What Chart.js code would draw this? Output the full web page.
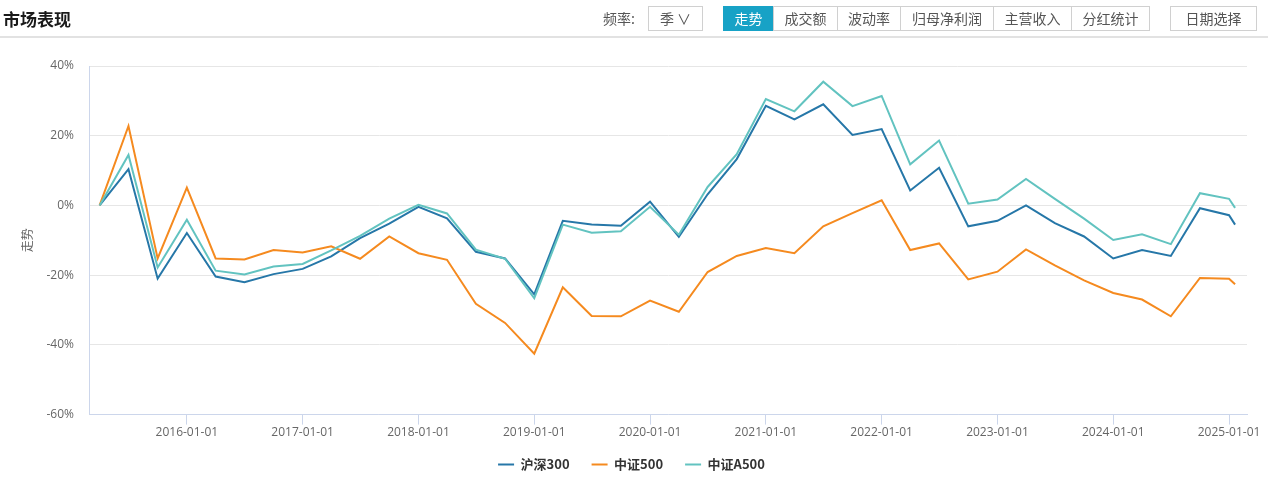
<!DOCTYPE html>
<html>
<head>
<meta charset="utf-8">
<script src="https://cdn.jsdelivr.net/npm/chart.js@4"></script>
<style>
  html, body { margin: 0; padding: 0; background: #fff; }
  body { width: 1268px; height: 486px; position: relative; overflow: hidden;
         font-family: "Open Sans", "Noto Sans CJK SC", sans-serif; }
  #chartWrap { position: absolute; left: 0; top: 0; width: 1268px; height: 486px; }
  .head { position: absolute; left: 0; top: 0; width: 1268px; height: 36px; border-bottom: 2px solid #e2e2e2; }
  .title { position: absolute; left: 3px; top: 6px; font-size: 17px; font-weight: bold; color: #1a1a1a;
           font-family: "Noto Sans CJK SC", sans-serif; }
  .lbl { position: absolute; left: 603px; top: 8px; font-size: 14px; color: #555; font-family: "Noto Sans CJK SC", sans-serif; }
  .box { position: absolute; top: 6px; height: 23px; border: 1px solid #d0d0d0; background: #fff;
         font-size: 14px; color: #555; line-height: 23px; text-align: center; box-sizing: content-box;
         font-family: "Noto Sans CJK SC", sans-serif; }
  .grp { position: absolute; left: 724px; top: 6px; height: 25px; display: flex; }
  .grp div { height: 23px; border: 1px solid #d0d0d0; margin-left: -1px; font-size: 14px; color: #555;
             line-height: 23px; text-align: center; font-family: "Noto Sans CJK SC", sans-serif; }
  .grp .on { background: #17a2c6; border-color: #17a2c6; color: #fff; }
</style>
</head>
<body>
<div id="chartWrap"><canvas id="c" width="1268" height="486"></canvas></div>
<div class="head">
  <div class="title">市场表现</div>
  <div class="lbl">频率:</div>
  <div class="box" style="left:648px;width:53px">季 &#8744;</div>
  <div class="grp">
    <div class="on" style="width:49px">走势</div>
    <div style="width:63px">成交额</div>
    <div style="width:62px">波动率</div>
    <div style="width:92px">归母净利润</div>
    <div style="width:77px">主营收入</div>
    <div style="width:77px">分红统计</div>
  </div>
  <div class="box" style="left:1170px;width:85px">日期选择</div>
</div>
<script>
// ── DATA ──────────────────────────────────────────────
const dates = [
  '2015-04-01','2015-07-01','2015-10-01',
  '2016-01-01','2016-04-01','2016-07-01','2016-10-01',
  '2017-01-01','2017-04-01','2017-07-01','2017-10-01',
  '2018-01-01','2018-04-01','2018-07-01','2018-10-01',
  '2019-01-01','2019-04-01','2019-07-01','2019-10-01',
  '2020-01-01','2020-04-01','2020-07-01','2020-10-01',
  '2021-01-01','2021-04-01','2021-07-01','2021-10-01',
  '2022-01-01','2022-04-01','2022-07-01','2022-10-01',
  '2023-01-01','2023-04-01','2023-07-01','2023-10-01',
  '2024-01-01','2024-04-01','2024-07-01','2024-10-01',
  '2025-01-01','2025-01-20'
];
const hs300 = [
  0, 10.4, -21.0, -7.9, -20.4, -22.0, -19.7, -18.2, -14.6, -9.4, -5.2, -0.4,
  -3.7, -13.3, -15.2, -25.5, -4.4, -5.5, -5.8, 1.1, -9.0, 3.2, 13.3, 28.6,
  24.7, 29.0, 20.2, 21.9, 4.3, 10.8, -6.0, -4.4, 0.0, -5.1, -8.9, -15.2,
  -12.8, -14.5, -0.8, -2.8, -5.5
];
const zz500 = [
  0, 22.8, -15.2, 5.1, -15.2, -15.5, -12.8, -13.5, -11.7, -15.3, -8.9, -13.7,
  -15.6, -28.2, -33.7, -42.5, -23.5, -31.7, -31.8, -27.3, -30.5, -19.1, -14.5, -12.2,
  -13.7, -6.0, -2.2, 1.5, -12.8, -10.9, -21.2, -19.0, -12.6, -17.2, -21.5, -25.1,
  -27.0, -31.8, -20.8, -21.0, -22.6
];
const zzA500 = [
  0, 14.5, -17.8, -4.1, -18.7, -19.8, -17.5, -16.8, -12.9, -8.7, -3.8, 0.2,
  -2.3, -12.7, -15.3, -26.6, -5.5, -7.8, -7.4, -0.4, -8.4, 5.3, 14.7, 30.5,
  27.0, 35.5, 28.5, 31.4, 11.8, 18.6, 0.5, 1.7, 7.6, 1.9, -3.8, -9.9,
  -8.3, -11.1, 3.5, 1.9, -0.7
];
const yearTicks = [2016, 2017, 2018, 2019, 2020, 2021, 2022, 2023, 2024, 2025];
const yTicks = [-60, -40, -20, 0, 20, 40];

// date string -> fractional year for the linear x scale
function toYear(s) {
  const d = new Date(s + 'T00:00:00Z');
  const y = d.getUTCFullYear();
  const start = Date.UTC(y, 0, 1), end = Date.UTC(y + 1, 0, 1);
  return y + (d - start) / (end - start);
}
const pts = vals => vals.map((v, i) => ({ x: toYear(dates[i]), y: v }));

const FONT = '"Open Sans", "Noto Sans CJK SC", sans-serif';
const AXIS = '#ccd6eb';

// nudge legend up a bit so it sits closer to the axis labels
const legendNudge = {
  id: 'legendNudge',
  afterLayout(chart) {
    if (chart.legend) { chart.legend.top -= 5; chart.legend.bottom -= 5; }
  },
};

new Chart(document.getElementById('c').getContext('2d'), {
  type: 'line',
  data: {
    datasets: [
      { label: '沪深300', data: pts(hs300), borderColor: '#2677a8', backgroundColor: '#2677a8', order: 3 },
      { label: '中证500', data: pts(zz500), borderColor: '#f58a1f', backgroundColor: '#f58a1f', order: 2 },
      { label: '中证A500', data: pts(zzA500), borderColor: '#62c3c0', backgroundColor: '#62c3c0', order: 1 },
    ],
  },
  plugins: [legendNudge],
  options: {
    responsive: false, animation: false,
    layout: { padding: { top: 66, right: 21, left: 16, bottom: 0 } },
    elements: { line: { borderWidth: 2, tension: 0 }, point: { radius: 0 } },
    plugins: {
      tooltip: { enabled: false },
      legend: {
        position: 'bottom',
        labels: {
          usePointStyle: true, pointStyle: 'line', pointStyleWidth: 16, boxWidth: 16, boxHeight: 13,
          padding: 22, color: '#333',
          font: { family: '"Noto Sans CJK SC", "Open Sans", sans-serif', size: 13, weight: 'bold' },
          generateLabels: chart => chart.data.datasets.map((ds, i) => ({
            text: ds.label, strokeStyle: ds.borderColor, fillStyle: ds.borderColor,
            lineWidth: 2, pointStyle: 'line', datasetIndex: i, hidden: false, fontColor: '#333',
          })),
        },
      },
    },
    scales: {
      x: {
        type: 'linear', min: 2015.155, max: 2025.155,
        afterBuildTicks: s => { s.ticks = yearTicks.map(v => ({ value: v })); },
        ticks: { color: '#666', font: { family: FONT, size: 12 }, padding: 1, maxRotation: 0,
                 callback: v => v + '-01-01' },
        grid: { drawOnChartArea: false, drawTicks: true, tickLength: 10, color: AXIS, lineWidth: 1 },
        border: { color: AXIS, width: 1 },
      },
      y: {
        min: -60, max: 40,
        afterBuildTicks: s => { s.ticks = yTicks.map(v => ({ value: v })); },
        ticks: { color: '#666', font: { family: FONT, size: 12 }, padding: 15, callback: v => v + '%' },
        grid: { color: '#e6e6e6', drawTicks: false, lineWidth: 1 },
        border: { color: AXIS, width: 1 },
        title: { display: true, text: '走势', color: '#666', font: { family: '"Noto Sans CJK SC", sans-serif', size: 12 }, padding: 4 },
        afterFit: s => { s.width = 73; },
      },
    },
  },
});
</script>
</body>
</html>
